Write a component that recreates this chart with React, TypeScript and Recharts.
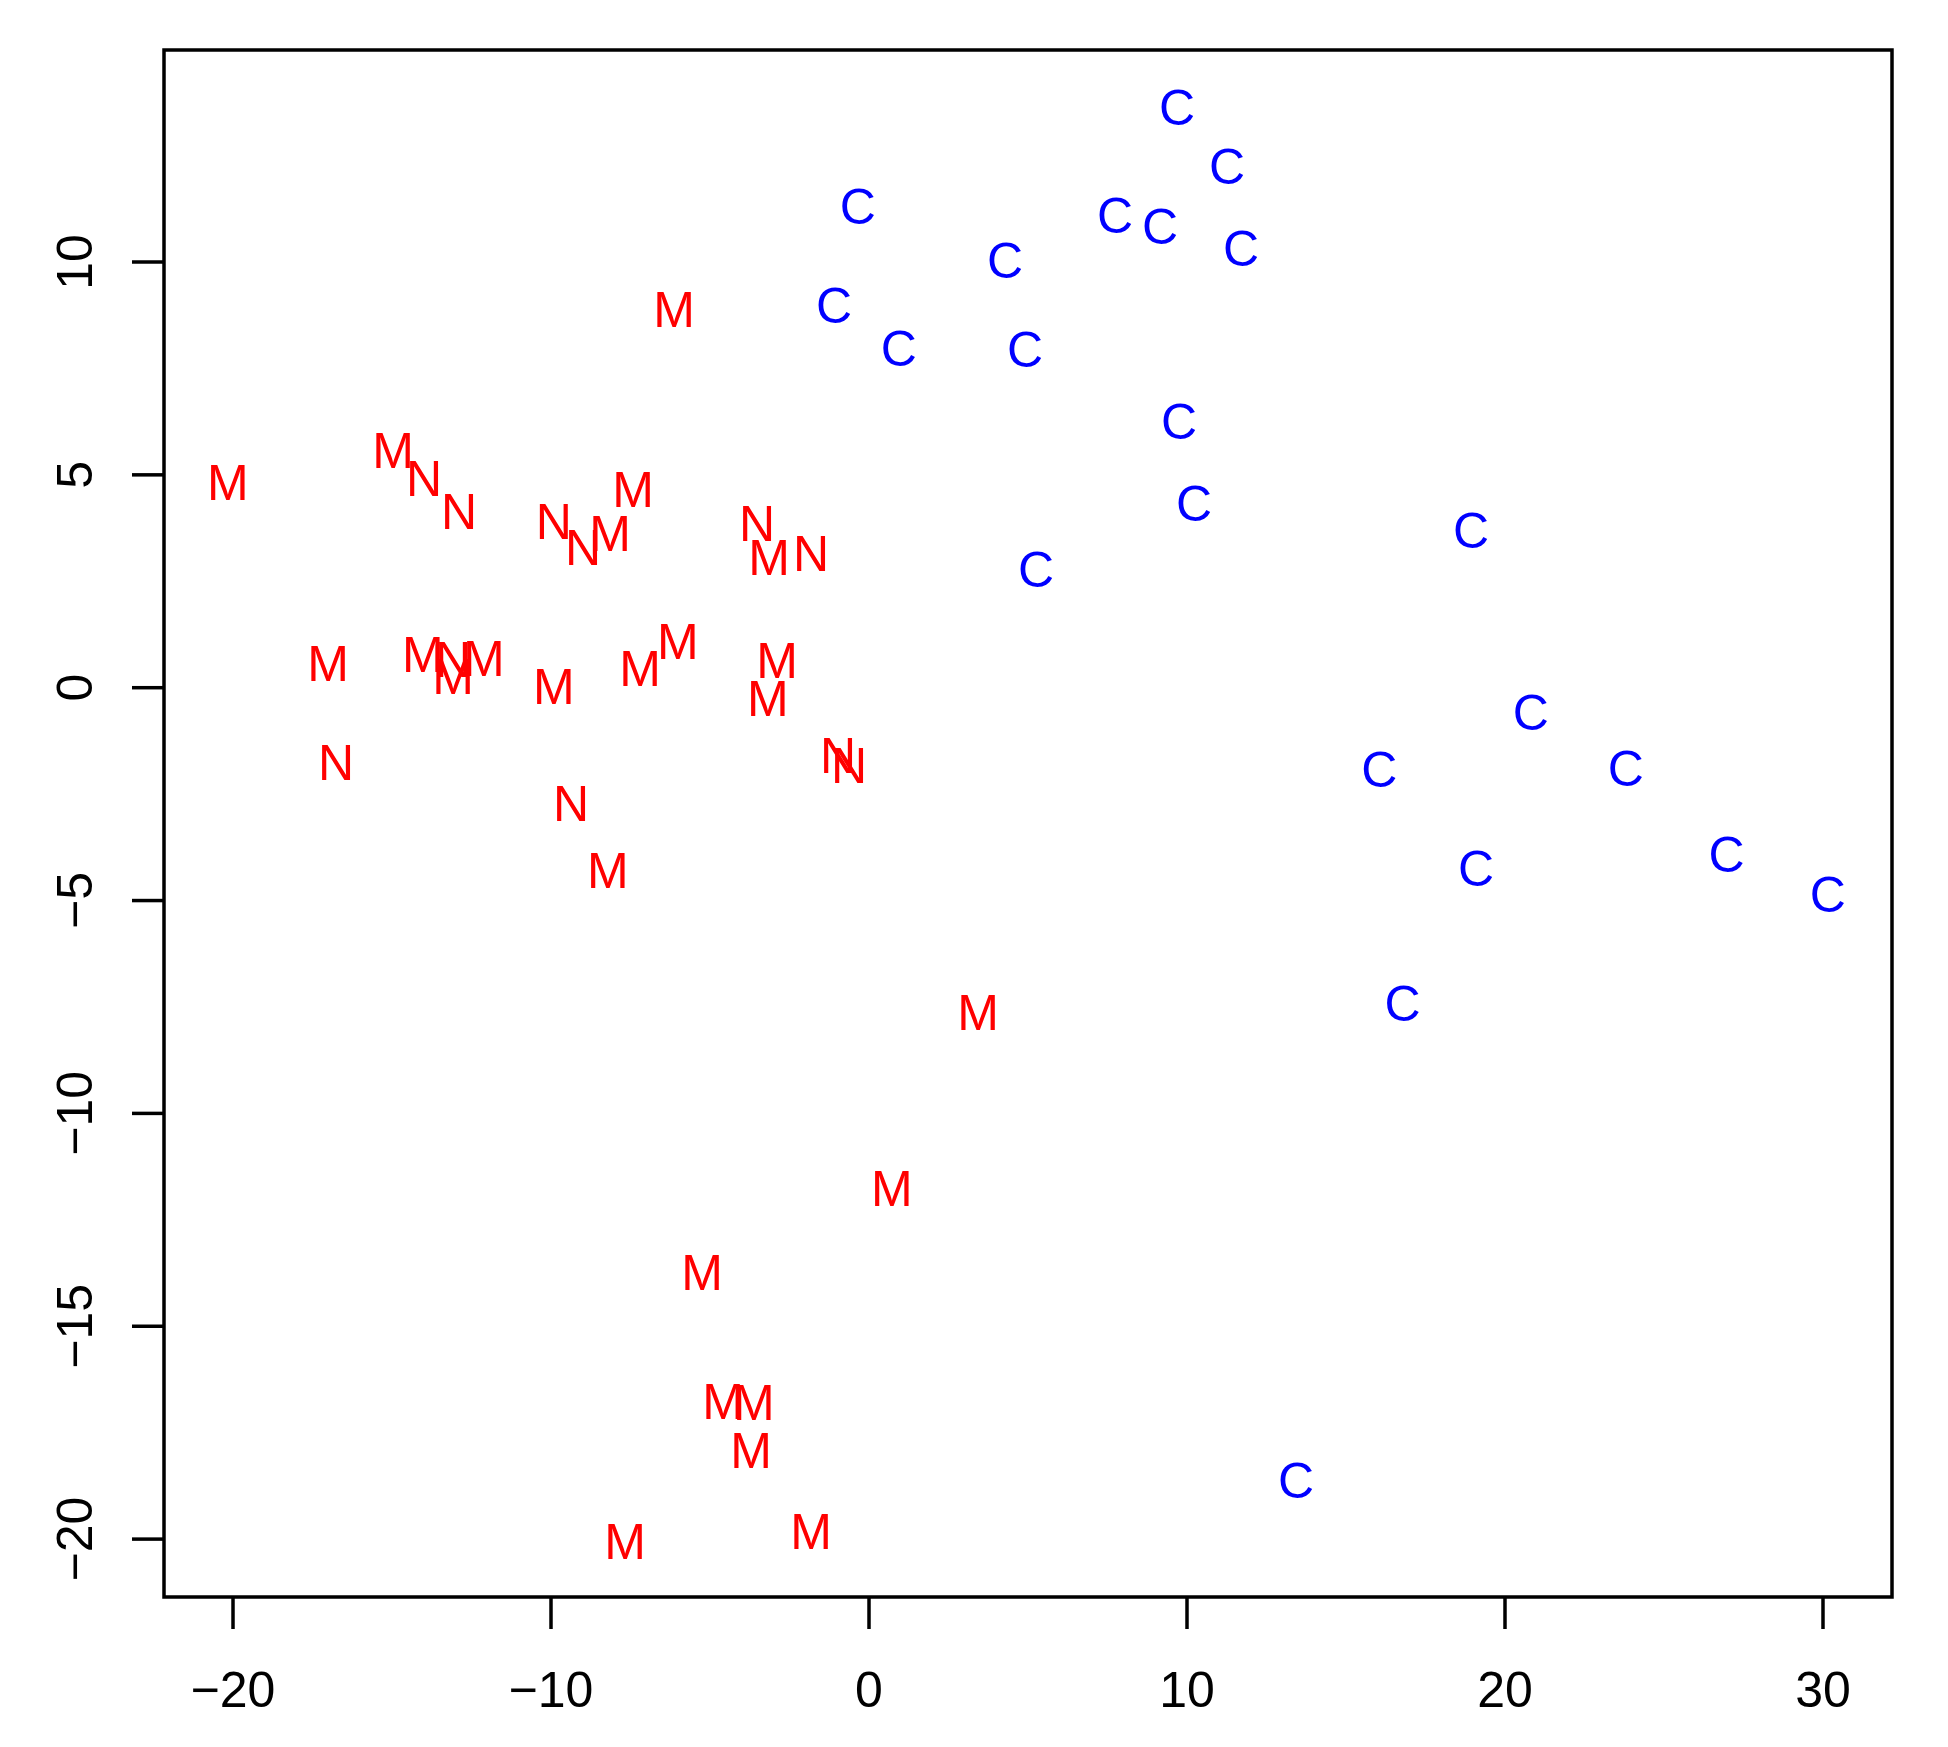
import { ScatterChart, Scatter, XAxis, YAxis, ReferenceArea } from 'recharts'

// x / y pairs, one list per class label
const pointsM: [number, number][] = [
  [-20.16, 4.83], [-14.97, 5.58], [-7.42, 4.67], [-8.14, 3.63], [-6.13, 8.9],
  [-3.14, 3.07], [-17.01, 0.58], [-14.03, 0.79], [-13.08, 0.27], [-12.11, 0.7],
  [-9.91, 0.04], [-7.2, 0.46], [-6.01, 1.1], [-2.89, 0.65], [-3.18, -0.24],
  [-8.21, -4.28], [3.43, -7.62], [0.72, -11.75], [-5.25, -13.73], [-4.59, -16.76],
  [-3.62, -16.78], [-3.71, -17.91], [-7.67, -20.04], [-1.82, -19.81],
]

const pointsN: [number, number][] = [
  [-13.99, 4.93], [-12.89, 4.15], [-9.91, 3.92], [-8.99, 3.31], [-3.52, 3.87],
  [-1.82, 3.16], [-13.08, 0.67], [-16.76, -1.75], [-9.37, -2.71], [-0.97, -1.58],
  [-0.63, -1.82],
]

const pointsC: [number, number][] = [
  [9.69, 13.64], [11.26, 12.26], [-0.35, 11.32], [7.74, 11.1], [9.15, 10.85],
  [11.7, 10.33], [4.28, 10.05], [-1.1, 8.99], [0.94, 7.98], [4.91, 7.96],
  [9.75, 6.26], [10.22, 4.34], [18.93, 3.71], [5.25, 2.79], [20.81, -0.57],
  [16.05, -1.91], [23.8, -1.89], [19.09, -4.23], [26.97, -3.9], [30.15, -4.84],
  [16.78, -7.4], [13.43, -18.61],
]

const xTicks = [-20, -10, 0, 10, 20, 30]
const yTicks = [-20, -15, -10, -5, 0, 5, 10]
const xDomain: [number, number] = [-22.17, 32.17]
const yDomain: [number, number] = [-21.36, 14.98]

const FONT = '"Liberation Sans", Arial, Helvetica, sans-serif'
const FS = 50

const toRows = (pts: [number, number][]) => pts.map(([x, y]) => ({ x, y }))
const fmt = (v: number) => String(v).replace('-', '\u2212')

const letterShape = (label: string, color: string) => (props: any) => {
  const { cx, cy } = props
  return (
    <text
      x={cx}
      y={cy + FS * 0.36}
      textAnchor="middle"
      fill={color}
      fontSize={FS}
      fontFamily={FONT}
    >
      {label}
    </text>
  )
}

const XTick = ({ x, y, payload }: any) => (
  <text x={x} y={y + 78} textAnchor="middle" fontSize={FS} fontFamily={FONT} fill="#000">
    {fmt(payload.value)}
  </text>
)

const YTick = ({ x, y, payload }: any) => (
  <g transform={`translate(${x - 40},${y}) rotate(-90)`}>
    <text x={0} y={0} textAnchor="middle" fontSize={FS} fontFamily={FONT} fill="#000">
      {fmt(payload.value)}
    </text>
  </g>
)

const App = () => {
  return (
    <div style={{ position: 'absolute', left: 0, top: 0, width: 1948, height: 1747, background: '#fff' }}>
      <ScatterChart width={1948} height={1747} margin={{ top: 50, right: 56, bottom: 50, left: 64 }}>
        <XAxis
          type="number"
          dataKey="x"
          domain={xDomain}
          ticks={xTicks}
          allowDataOverflow
          height={100}
          axisLine={false}
          tickLine={{ stroke: '#000', strokeWidth: 3.5 }}
          tickSize={32}
          tickMargin={0}
          tick={<XTick />}
        />
        <YAxis
          type="number"
          dataKey="y"
          domain={yDomain}
          ticks={yTicks}
          allowDataOverflow
          width={100}
          axisLine={false}
          tickLine={{ stroke: '#000', strokeWidth: 3.5 }}
          tickSize={32}
          tickMargin={0}
          tick={<YTick />}
        />
        <ReferenceArea
          x1={xDomain[0]}
          x2={xDomain[1]}
          y1={yDomain[0]}
          y2={yDomain[1]}
          fill="none"
          stroke="#000"
          strokeWidth={3.5}
          fillOpacity={0}
        />
        <Scatter data={toRows(pointsM)} shape={letterShape('M', '#ff0000')} isAnimationActive={false} />
        <Scatter data={toRows(pointsN)} shape={letterShape('N', '#ff0000')} isAnimationActive={false} />
        <Scatter data={toRows(pointsC)} shape={letterShape('C', '#0000ff')} isAnimationActive={false} />
      </ScatterChart>
    </div>
  )
}

export default App
